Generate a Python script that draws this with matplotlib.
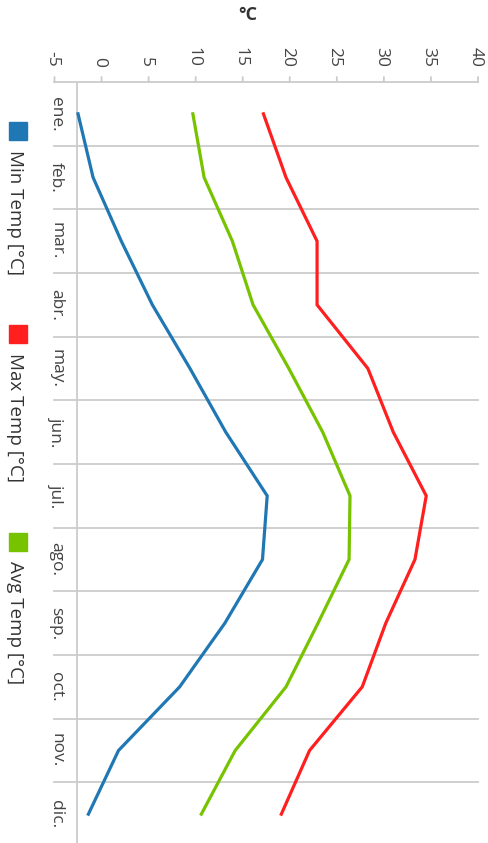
import matplotlib
matplotlib.use("Agg")
import matplotlib.pyplot as plt
import matplotlib.transforms as mtransforms
from matplotlib.patches import Rectangle

plt.rcParams['font.family'] = ['Open Sans', 'DejaVu Sans']

# monthly temperatures
months = ["ene.", "feb.", "mar.", "abr.", "may.", "jun.",
          "jul.", "ago.", "sep.", "oct.", "nov.", "dic."]
min_temp = [-2.5, -0.9, 2.1, 5.4, 9.4, 13.2, 17.6, 17.1, 13.1, 8.3, 1.8, -1.4]
max_temp = [17.2, 19.6, 22.9, 22.9, 28.3, 31.0, 34.5, 33.3, 30.2, 27.7, 22.1, 19.1]
avg_temp = [9.7, 10.9, 13.9, 16.1, 19.9, 23.5, 26.4, 26.3, 23.0, 19.6, 14.2, 10.6]
temp_ticks = list(range(-5, 41, 5))

series = [("Min Temp [°C]", min_temp, "#1f78b4"),
          ("Max Temp [°C]", max_temp, "#ff1f1f"),
          ("Avg Temp [°C]", avg_temp, "#77c300")]

W, H = 489, 843
fig = plt.figure(figsize=(W / 100, H / 100), dpi=100)
# chart is drawn turned a quarter turn clockwise: temperature runs left->right,
# months run top->bottom
ax = fig.add_axes([54.5 / W, (H - 846) / H, 423.5 / W, (846 - 82) / H])
ax.set_xlim(-5, 40)
ax.set_ylim(len(months) - 0.5, -0.5)
for s in ax.spines.values():
    s.set_visible(False)
ax.set_xticks([])
ax.set_yticks([])

# category boundary lines
for k in range(len(months) + 1):
    ax.axhline(k - 0.5, color="#cccccc", lw=1.3, zorder=1, clip_on=False)
ax.axvline(-2.65, color="#cccccc", lw=1.3, zorder=1)

idx = list(range(len(months)))
for name, vals, col in series:
    ax.plot(vals, idx, color=col, lw=2.3, zorder=3, solid_joinstyle="miter")

# temperature ticks along the top
top = mtransforms.blended_transform_factory(ax.transData, ax.transAxes)
for v in temp_ticks:
    ax.annotate("", xy=(v, 1), xycoords=top, xytext=(0, 5), textcoords="offset pixels",
                arrowprops=dict(arrowstyle="-", color="#cccccc", lw=1.3, shrinkA=0, shrinkB=0))
    ax.text(v, 1, str(v),
            transform=top + mtransforms.ScaledTranslation(-6.5 / 100, 15 / 100, fig.dpi_scale_trans),
            rotation=-90, rotation_mode="anchor", ha="right", va="baseline",
            fontsize=12.5, color="#444444", clip_on=False)

# month labels down the left side
left = mtransforms.blended_transform_factory(ax.transAxes, ax.transData)
for i, m in enumerate(months):
    ax.text(0, i, m,
            transform=left + mtransforms.ScaledTranslation(-2.5 / 100, 0, fig.dpi_scale_trans),
            rotation=-90, rotation_mode="anchor", ha="center", va="baseline",
            fontsize=12.5, color="#444444", clip_on=False)

# axis title
fig.text(247.5 / W, 1 - 15 / H, "°C", ha="center", va="center",
         fontsize=13, fontweight="bold", color="#333333")

# legend, turned like the chart
leg_y = [122, 325, 533]
for (name, vals, col), y0 in zip(series, leg_y):
    fig.patches.append(Rectangle((8.5 / W, 1 - (y0 + 18) / H), 18 / W, 18 / H,
                                 transform=fig.transFigure, color=col))
    fig.text(10 / W, 1 - (y0 + 28) / H, name, rotation=-90, rotation_mode="anchor",
             ha="left", va="baseline", fontsize=13.5, color="#333333")

fig.savefig("out.png", dpi=100)
